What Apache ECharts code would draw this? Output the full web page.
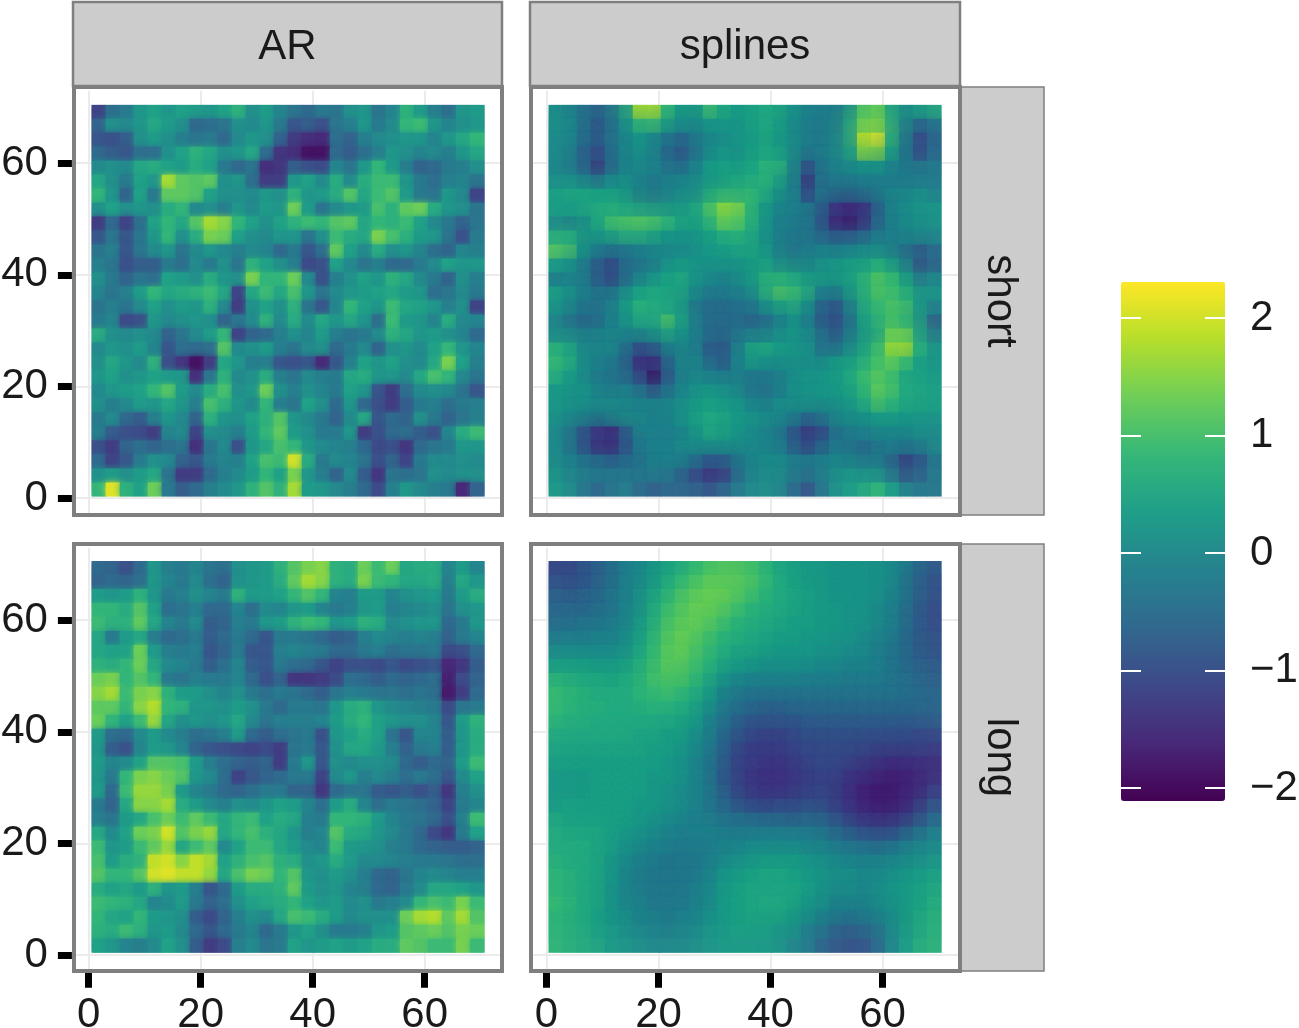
<!DOCTYPE html>
<html>
<head>
<meta charset="utf-8">
<title>AR and splines</title>
<script src="https://cdn.jsdelivr.net/npm/echarts@6/dist/echarts.min.js"></script>
<style>
html, body { margin: 0; padding: 0; background: #fff; }
#chart { width: 1299px; height: 1028px; }
</style>
</head>
<body>
<div id="chart"></div>
<script>
// values are in tenths, top row first, 2.5 units per cell
const arShort = [
[-12,-5,-3,2,4,2,4,3,2,4,7,1,3,-1,-4,-6,-3,-4,1,2,-4,-1,7,3,-2,-5,2,3],
[-7,1,0,2,5,3,1,-6,-5,-4,1,0,2,-3,-9,-8,-10,-4,-2,2,-3,0,8,9,2,-1,1,2],
[-9,-10,-8,1,3,1,-2,-4,-3,-6,0,2,1,-7,-13,-15,-16,-5,-7,-2,0,1,2,2,-1,2,5,8],
[-6,-8,-9,-5,-5,1,4,7,5,1,2,5,-5,-14,-15,-19,-19,-6,-8,-5,-2,2,1,-1,0,-2,2,5],
[0,1,0,5,6,4,3,6,4,-3,-6,-4,-15,-14,-8,-10,-11,-1,-4,2,8,3,-2,-7,-6,-3,-2,1],
[5,1,-3,4,2,17,12,11,12,1,2,-5,-13,-13,2,4,0,6,0,6,9,9,2,-3,-5,-2,-1,-4],
[8,2,-7,4,-3,12,12,11,4,1,1,0,2,1,7,2,3,6,11,5,9,11,3,-3,-4,2,0,-12],
[1,4,1,2,1,6,8,0,1,-2,2,0,3,2,13,3,-4,0,2,3,10,7,12,13,6,2,1,-4],
[-13,-6,-12,-5,4,8,5,11,17,15,8,4,1,4,7,9,8,11,12,5,8,7,9,4,0,-3,-7,-4],
[-9,-4,-9,-4,2,8,1,6,14,13,4,1,0,2,2,-4,1,9,6,5,14,10,7,3,2,-4,-10,-3],
[-4,-2,-9,-4,0,2,-4,0,2,0,-2,0,-1,-6,-3,-9,-5,12,4,0,6,1,2,-1,-5,-7,-1,-2],
[-2,-4,-10,-8,-8,-3,-5,0,-3,1,-4,7,4,1,-2,-11,-10,4,0,-4,-2,-6,-6,-3,0,4,2,2],
[1,-3,-7,-4,-5,4,3,1,6,2,1,14,8,8,13,0,-10,-2,1,4,2,7,5,0,-3,-7,1,-2],
[-1,-4,-2,3,8,5,6,7,9,5,-12,5,9,5,10,2,-4,0,2,3,4,5,3,2,-5,-4,0,-3],
[-4,-2,-4,0,4,1,3,2,7,0,-13,1,4,1,7,-4,-9,-1,8,4,2,9,5,4,2,-2,1,-12],
[-3,-1,-11,-10,2,0,1,2,1,-7,-4,0,7,0,6,0,5,2,5,2,-5,9,3,2,-1,6,0,-1],
[6,1,0,1,0,-7,-4,0,3,8,-12,-7,-6,-2,1,-1,3,-2,-4,-3,0,7,5,2,3,1,-1,-6],
[0,2,1,3,-1,-9,-5,-6,-5,11,0,1,3,-2,-4,0,1,-6,-3,0,-7,1,2,0,4,8,2,-1],
[1,5,2,0,7,-10,-14,-19,-13,5,2,-2,-2,-9,-10,-9,-16,-9,-2,4,2,4,1,0,5,14,4,-2],
[2,4,1,2,4,3,2,-15,-4,7,0,1,6,-2,-4,0,-2,-3,5,6,2,2,0,5,10,8,0,-4],
[0,2,3,4,8,11,3,0,6,10,1,2,13,1,-2,1,-1,-3,4,2,-9,-13,-5,0,1,0,-4,-9],
[1,-2,0,3,2,5,2,-2,10,7,2,0,8,-2,-4,4,1,-6,2,-6,-10,-13,-8,-3,-2,-5,-3,-2],
[-3,0,-6,-8,-2,2,0,-7,7,2,1,4,7,11,2,0,-3,-7,0,5,-9,-6,-7,1,-3,-7,-4,-2],
[-2,-8,-10,-11,-13,-1,0,-12,1,0,-2,3,8,12,3,1,-3,-3,2,-13,-10,-6,-5,-8,-10,-1,6,9],
[-10,-13,-7,-5,-7,-5,-4,-15,-4,0,-10,2,5,10,8,2,0,-1,-2,-6,-11,-10,-14,-6,-4,-3,2,2],
[-6,-12,-9,-3,1,0,-7,-9,-3,-1,-2,4,10,9,20,6,-3,0,-1,-4,-10,-7,-12,-3,0,0,1,0],
[1,3,1,3,5,-4,-13,-13,-6,-2,0,3,8,4,14,2,-2,-7,0,-8,-14,-4,-5,-4,1,0,1,1],
[8,21,7,4,13,-3,-8,-6,-2,0,2,7,11,7,17,3,2,0,-2,-6,-11,-2,2,0,-2,-3,-16,-7]
];
const splinesShort = [
[1,0,-4,-7,-4,3,18,19,9,3,2,10,6,3,4,6,5,2,-1,-2,-3,1,11,13,5,1,4,6],
[1,1,-4,-9,-5,1,9,10,5,2,1,3,3,2,4,6,4,1,-2,-3,-2,3,13,14,6,0,-6,-3],
[1,1,-4,-8,-4,0,3,1,-3,-6,-3,0,1,2,3,5,3,1,-2,-3,-1,3,19,22,7,-2,-11,-6],
[1,0,-6,-11,-5,0,2,0,-6,-9,-5,0,2,1,3,5,4,1,-3,-2,0,3,16,16,5,-3,-11,-6],
[0,-2,-7,-14,-7,-1,1,0,-4,-6,-2,3,4,3,4,8,8,1,-10,-3,0,1,3,3,0,-3,-4,-3],
[1,1,-2,-6,-1,1,-1,-3,-2,-1,0,2,3,4,6,8,5,0,-14,-4,-2,-2,-1,-1,-2,-3,-3,-3],
[4,5,5,4,4,2,-2,-4,-2,0,0,4,6,6,8,6,2,-1,-11,-3,-4,-4,-3,-2,0,0,1,-1],
[4,4,5,6,6,4,2,1,1,2,4,10,16,15,8,3,0,-1,-2,-6,-13,-15,-14,-7,-1,1,2,2],
[0,-2,0,5,10,11,12,11,9,5,4,8,14,13,8,3,-1,-2,-2,-8,-16,-18,-15,-7,-2,1,2,2],
[6,6,2,3,5,8,8,6,3,2,2,4,7,8,6,2,-2,-3,-3,-6,-9,-9,-7,-3,-2,0,1,1],
[12,11,3,-1,-3,-2,-1,0,0,0,1,3,4,5,5,3,-2,-4,-3,-2,-3,-2,-1,0,-2,-5,-8,-5],
[4,3,-1,-7,-11,-5,-4,-3,1,3,2,2,2,2,3,4,0,-2,-2,1,2,3,3,6,3,-2,-10,-7],
[-2,-1,-2,-8,-12,-7,-2,1,4,6,3,1,0,1,3,7,7,5,3,3,3,4,7,11,9,3,-4,-1],
[4,2,-1,-4,-5,0,4,5,5,5,1,-2,-2,-1,1,7,11,10,7,-1,-2,3,7,11,10,7,2,2],
[3,1,-3,-4,-2,3,8,6,5,3,-3,-5,-5,-4,-3,2,5,7,3,-6,-9,-2,6,9,11,10,3,-1],
[0,-4,-7,-6,-2,2,6,6,11,5,-2,-5,-5,-5,-7,-6,-2,2,-1,-8,-11,-5,4,7,10,8,2,-7],
[0,-1,-3,-2,0,0,1,3,6,3,-1,-5,-6,-4,-3,-3,0,2,1,-5,-9,-4,2,4,13,13,3,-3],
[7,5,0,0,1,-3,-9,-7,-1,1,-1,-8,-9,-2,5,6,4,3,2,-5,-6,-1,3,8,17,18,7,2],
[9,7,1,-1,-2,-5,-14,-15,-6,0,0,-6,-9,-1,4,3,2,2,1,0,2,3,6,10,13,10,4,2],
[7,4,1,-3,-4,-5,-11,-19,-9,-2,0,-2,-3,-2,-3,-3,-2,1,2,2,3,5,9,12,10,5,4,3],
[3,2,2,-1,-3,-2,-5,-10,-6,-1,1,2,1,0,-4,-5,-3,1,2,3,3,4,8,13,11,6,5,4],
[3,2,2,1,1,0,-1,-2,-1,1,3,4,3,2,-1,-2,1,2,3,2,2,3,6,11,9,6,5,4],
[2,1,0,-1,1,2,1,-1,-1,1,4,6,5,3,2,1,1,-1,-5,-3,1,2,2,4,4,3,3,2],
[1,-2,-8,-13,-15,-8,-1,-1,-2,-1,2,6,5,3,1,0,-2,-8,-13,-11,-4,-2,-1,1,1,1,2,1],
[1,-3,-9,-15,-16,-10,-3,-1,-1,1,2,3,3,2,1,0,-2,-8,-12,-8,-3,-4,-6,-3,-1,-2,-1,1],
[1,-1,-4,-6,-8,-6,-4,-1,0,0,-3,-7,-7,-3,0,1,1,-2,-3,-2,0,-2,-4,-3,-6,-12,-9,-3],
[2,0,-2,-3,-3,-3,-3,-2,-2,-6,-10,-14,-13,-6,-1,1,1,-2,-4,-2,1,2,1,1,-4,-10,-8,-3],
[3,1,-3,-6,-4,-2,-5,-7,-6,-6,-7,-9,-7,-3,0,1,0,-5,-9,-4,1,3,5,8,4,-1,-3,-3]
];
const arLong = [
[-6,-7,-10,-6,2,-2,-3,-1,-4,-5,1,2,3,7,11,14,15,7,6,13,9,13,5,6,6,-1,3,-1],
[-7,-6,-7,-5,2,-1,-3,0,-5,-7,1,2,3,6,12,17,15,7,6,14,9,8,5,5,6,-2,5,2],
[3,2,3,7,2,-3,-2,1,-1,-3,7,3,3,4,8,11,8,-1,-2,3,3,-1,1,2,3,-3,3,6],
[8,8,6,11,4,-5,-4,-2,-6,-6,-1,-5,0,-1,2,3,-1,-3,-2,2,3,-2,-1,0,1,-4,1,2],
[9,7,7,12,5,-1,-3,0,-8,-7,-2,-3,2,3,7,9,8,2,3,7,6,0,1,2,2,-6,-3,2],
[5,-3,3,5,-2,-6,-5,-3,-8,-6,-3,-6,-9,-3,-3,-4,-6,-8,-7,-2,0,-1,-2,-1,-2,-7,-3,-1],
[5,4,4,13,3,-2,-3,-2,-9,-7,-3,-9,-9,-2,-1,-2,-3,-6,-6,-3,-2,-5,-4,-4,-3,-11,-10,-6],
[7,6,8,13,5,0,-1,-3,-8,-5,-1,-8,-9,-3,-5,-6,-9,-12,-10,-10,-11,-9,-11,-10,-9,-16,-14,-8],
[13,14,8,11,8,-3,-4,-2,-3,-3,-1,-6,-10,-7,-14,-14,-13,-11,-5,-6,-8,-6,-7,-6,-5,-17,-11,-7],
[15,17,9,14,15,7,3,3,1,-1,1,-3,-5,-3,-4,-6,-8,-4,-2,-3,-4,-4,-5,-4,-5,-18,-13,-6],
[12,12,8,15,18,8,7,2,2,1,3,1,-3,-6,-3,-3,-4,2,6,7,2,0,-1,-2,-3,-11,-4,-3],
[13,8,4,9,16,5,1,2,1,2,5,0,-4,-2,-2,-2,-1,3,6,8,4,2,1,1,-1,-9,3,7],
[3,-5,-6,0,3,0,-2,-5,-4,-2,3,-6,-8,-5,-4,-3,-10,2,4,6,4,-4,-9,-1,-1,-8,2,6],
[2,-8,-10,-1,3,2,-1,-7,-9,-10,-11,-12,-11,-13,-4,-3,-9,1,5,5,3,-2,-7,-3,-2,-8,2,6],
[3,-1,0,4,11,11,10,3,-2,-5,-7,-8,-7,-13,-3,2,-9,1,0,1,1,0,-6,-8,-6,-7,3,9],
[2,-3,8,14,15,13,11,2,0,-5,-12,-9,-7,-6,-3,-3,-12,0,2,-2,0,-2,-5,-3,-5,-9,0,4],
[3,-6,9,16,16,14,3,-1,-3,-6,-7,-5,-3,-3,-7,-7,-14,-6,-4,-4,-8,-9,-8,-10,-8,-14,-2,1],
[-3,-7,5,15,15,17,6,3,0,-2,1,0,2,4,3,-1,-5,3,6,-1,-5,-3,-4,-5,-7,-12,-3,-1],
[-2,-4,3,5,10,13,9,12,9,5,8,9,4,6,5,-2,-3,8,8,7,3,-1,-3,-4,-6,-10,-2,9],
[5,0,4,13,14,20,11,14,16,5,8,10,7,5,2,-2,-1,11,6,5,2,0,-3,-6,-11,-14,-3,4],
[9,2,3,9,12,16,5,9,12,0,4,9,9,5,3,0,-1,9,3,2,1,-2,-3,-6,-7,-8,-8,-7],
[10,3,6,7,19,20,15,19,17,4,7,10,11,7,6,1,2,6,3,0,0,-1,-2,-3,-3,-4,-5,-5],
[11,8,8,11,20,21,19,19,16,5,10,14,13,8,11,2,1,3,1,-2,-6,-7,-4,-1,0,-1,-2,-2],
[6,4,5,3,7,2,3,-2,-9,-6,3,6,6,7,12,3,1,2,-1,-2,-6,-7,-3,0,5,5,4,2],
[9,8,7,5,-1,0,3,-3,-7,-5,1,4,5,6,8,4,2,3,0,1,-3,-2,0,8,10,9,14,9],
[8,5,4,8,3,2,1,-8,-11,-7,-2,1,0,5,10,9,6,3,0,1,1,1,13,17,18,12,17,11],
[7,6,9,7,2,3,0,-6,-9,-6,-3,-1,-6,-3,2,4,1,-3,-3,-2,2,3,11,12,13,11,14,13],
[4,2,-1,-2,0,4,1,-8,-13,-11,-2,0,-4,-3,4,2,3,4,3,4,6,6,12,11,9,9,14,9]
];
const splinesLong = [
[-11,-11,-9,-7,-5,-2,0,2,4,6,8,10,11,11,10,8,5,4,3,3,2,2,2,2,1,-2,-6,-8],
[-9,-10,-9,-7,-5,-2,0,2,5,8,10,12,12,12,11,9,6,4,3,3,2,2,2,2,1,-3,-7,-9],
[-7,-8,-7,-6,-4,-2,1,4,7,10,12,13,13,12,10,8,6,5,4,3,2,2,2,2,0,-3,-7,-9],
[-6,-6,-6,-5,-4,-1,1,5,9,11,13,13,12,10,8,7,6,5,4,3,3,2,2,1,-1,-4,-8,-10],
[-5,-5,-4,-4,-3,-1,2,6,10,12,13,12,10,8,7,6,5,4,4,3,3,2,2,1,-1,-4,-8,-10],
[-3,-3,-3,-2,-2,0,3,7,11,13,12,10,8,7,6,5,4,4,3,3,2,2,1,0,-2,-5,-8,-9],
[0,0,0,0,0,1,4,8,12,13,11,9,7,5,5,4,3,3,3,2,2,1,1,-1,-3,-5,-8,-9],
[3,3,3,2,2,3,6,9,12,12,10,8,5,4,3,2,2,2,2,1,1,0,0,-1,-3,-5,-7,-8],
[7,6,5,5,4,5,7,10,11,11,9,6,3,1,0,0,0,0,-1,-1,-1,-2,-2,-2,-3,-4,-6,-7],
[9,8,7,6,6,6,8,9,10,9,7,4,0,-2,-3,-3,-3,-3,-3,-3,-3,-3,-3,-3,-3,-4,-5,-6],
[9,8,7,7,6,6,7,8,8,7,5,2,-2,-4,-5,-6,-6,-5,-5,-5,-5,-5,-5,-5,-5,-5,-5,-6],
[8,7,7,6,6,6,6,6,6,5,4,0,-3,-6,-8,-8,-8,-8,-7,-7,-7,-7,-7,-7,-7,-7,-7,-7],
[6,6,6,6,6,6,5,5,4,4,2,-1,-5,-8,-10,-11,-11,-10,-9,-9,-9,-9,-9,-9,-9,-9,-10,-10],
[5,5,5,5,5,5,5,4,4,3,1,-2,-6,-10,-12,-12,-12,-11,-10,-10,-10,-10,-10,-11,-11,-11,-11,-12],
[4,4,4,4,4,4,4,4,3,2,0,-3,-7,-11,-12,-13,-13,-12,-11,-10,-10,-11,-12,-13,-14,-14,-14,-14],
[3,3,3,4,4,4,4,3,3,2,0,-3,-8,-11,-13,-14,-14,-13,-12,-11,-11,-13,-14,-15,-16,-16,-15,-14],
[3,3,3,4,4,4,4,3,2,1,0,-3,-7,-11,-13,-14,-14,-13,-12,-11,-12,-14,-16,-17,-17,-16,-15,-12],
[3,4,4,4,4,4,3,3,2,1,0,-3,-6,-9,-11,-12,-11,-11,-10,-10,-12,-14,-16,-17,-17,-16,-13,-9],
[5,4,4,4,4,4,3,2,1,0,-1,-2,-4,-5,-6,-7,-7,-8,-7,-7,-9,-12,-14,-15,-15,-13,-10,-6],
[6,5,5,5,4,3,2,1,0,-1,-1,-1,-2,-3,-3,-3,-3,-3,-3,-4,-6,-8,-10,-11,-11,-8,-5,-2],
[6,6,6,5,4,2,1,0,-1,-2,-2,-2,-1,-1,0,0,0,0,-1,-1,-3,-4,-5,-6,-5,-3,-1,0],
[7,6,6,5,3,1,-1,-2,-3,-3,-3,-2,0,1,2,3,3,3,2,1,0,-1,-2,-2,-1,0,1,2],
[8,7,6,5,3,0,-2,-3,-3,-3,-3,-1,2,3,4,5,5,4,3,2,1,1,0,0,1,2,3,4],
[8,7,6,5,2,0,-2,-3,-3,-3,-2,0,3,4,5,5,5,5,4,2,1,1,0,1,2,3,4,5],
[9,8,6,5,2,0,-1,-3,-3,-3,-2,0,3,4,5,6,6,5,3,2,0,0,0,1,2,3,4,6],
[8,7,6,4,2,1,-1,-2,-3,-2,-1,1,3,4,5,5,5,4,2,0,-2,-3,-2,-1,1,3,5,7],
[8,7,6,4,3,1,0,-1,-2,-1,0,2,3,4,4,4,3,2,-1,-3,-6,-7,-6,-4,0,3,5,7],
[8,7,6,5,3,2,1,0,0,0,1,2,3,3,3,3,2,0,-2,-6,-8,-9,-9,-6,-1,3,6,7]
];
const axisTicks = [0, 20, 40, 60];
const legendTicks = [-2, -1, 0, 1, 2];
const colTitles = ['AR', 'splines'];
const rowTitles = ['short', 'long'];
const viridis = ['#440154', '#482878', '#3e4989', '#31688e', '#26828e', '#1f9e89', '#35b779', '#6ece58', '#b5de2b', '#fde725'];

const TEXT = '#1a1a1a';
const FONT = 'Liberation Sans';
const SIZE = 42;

// one category per axis unit, ends sit on the panel frame
function range(a, b) {
  let out = [];
  for (let i = a; i <= b; i++) out.push(String(i));
  return out;
}
const xUnits = range(-3, 74);
const yUnits = range(-3, 73);
const heatIndex = arShort.map((r, i) => String(i));

function isTick(index, value) {
  return axisTicks.indexOf(Number(value)) >= 0;
}
function isLegendTick(index, value) {
  return legendTicks.indexOf(Number(value) / 10) >= 0;
}

function toCells(rows) {
  let cells = [];
  rows.forEach((row, r) => {
    row.forEach((v, c) => {
      cells.push([c, rows.length - 1 - r, v / 10]);
    });
  });
  return cells;
}

// cells with soft edges, the blur is what hides the mosaic
function softCell(blur) {
  return function (params, api) {
    const c = api.coord([api.value(0), api.value(1)]);
    const s = api.size([1, 1]);
    const color = api.visual('color');
    return {
      type: 'rect',
      shape: { x: c[0] - s[0] / 2, y: c[1] - s[1] / 2, width: s[0] + 0.5, height: s[1] + 0.5 },
      style: { fill: color, shadowBlur: blur, shadowColor: color }
    };
  };
}

const panels = [
  { rows: arShort, col: 0, row: 0, blur: 6 },
  { rows: splinesShort, col: 1, row: 0, blur: 28 },
  { rows: arLong, col: 0, row: 1, blur: 6 },
  { rows: splinesLong, col: 1, row: 1, blur: 28 }
];
const zeroX = [88.7, 546.5];
const zeroY = [498, 955];
const heatX = [91.7, 548.7];
const heatY = [104.7, 561];
const frames = [[74, 502], [531, 960]];
const frameRows = [[87, 515], [544, 971]];

let grids = [], xAxes = [], yAxes = [], series = [], gfx = [];

panels.forEach((p) => {
  // outer grid: ticks, labels and grid lines
  const xBottom = p.row === 1;
  const yLeft = p.col === 0;
  grids.push({
    left: zeroX[p.col] - 3 * 5.6, width: 77 * 5.6,
    top: zeroY[p.row] - 73 * 5.58, height: 76 * 5.58,
    outerBoundsMode: 'none'
  });
  let g = grids.length - 1;
  xAxes.push({
    type: 'category', gridIndex: g, data: xUnits, boundaryGap: false,
    axisLine: { show: false },
    axisTick: { show: xBottom, interval: isTick, length: 16, lineStyle: { color: '#000', width: 7 } },
    axisLabel: { show: xBottom, interval: isTick, margin: 23, fontSize: SIZE, color: TEXT, fontFamily: FONT },
    splitLine: { show: true, interval: isTick, lineStyle: { color: '#ebebeb', width: 2 } }
  });
  yAxes.push({
    type: 'category', gridIndex: g, data: yUnits, boundaryGap: false,
    axisLine: { show: false },
    axisTick: { show: yLeft, interval: isTick, length: 14, lineStyle: { color: '#000', width: 7 } },
    axisLabel: { show: yLeft, interval: isTick, margin: 24, fontSize: SIZE, color: TEXT, fontFamily: FONT, padding: [13, 0, 0, 0] },
    splitLine: { show: true, interval: isTick, lineStyle: { color: '#ebebeb', width: 2 } }
  });

  // inner grid: the raster itself
  grids.push({ left: heatX[p.col], width: 392.3, top: heatY[p.row], height: 391.7, outerBoundsMode: 'none' });
  g = grids.length - 1;
  xAxes.push({ type: 'category', gridIndex: g, data: heatIndex, show: false });
  yAxes.push({ type: 'category', gridIndex: g, data: heatIndex, show: false });
  series.push({
    type: 'custom', xAxisIndex: g, yAxisIndex: g, data: toCells(p.rows),
    renderItem: softCell(p.blur), clip: true, silent: true,
    encode: { x: 0, y: 1 }, progressive: 0, animation: false
  });

  // frame
  gfx.push({
    type: 'rect', z: 100, silent: true,
    shape: { x: frames[p.col][0], y: frameRows[p.row][0], width: frames[p.col][1] - frames[p.col][0], height: frameRows[p.row][1] - frameRows[p.row][0] },
    style: { fill: 'none', stroke: '#7f7f7f', lineWidth: 4 }
  });
});

// facet strips
const stripCols = [[73, 502], [530, 960]];
colTitles.forEach((t, i) => {
  gfx.push({
    type: 'rect', z: 90, silent: true,
    shape: { x: stripCols[i][0], y: 2, width: stripCols[i][1] - stripCols[i][0], height: 84 },
    style: { fill: '#cccccc', stroke: '#7f7f7f', lineWidth: 2.5 }
  });
  gfx.push({
    type: 'text', z: 95, silent: true, x: (stripCols[i][0] + stripCols[i][1]) / 2, y: 47,
    style: { text: t, textAlign: 'center', textVerticalAlign: 'middle', fontSize: SIZE, fontFamily: FONT, fill: TEXT }
  });
});
rowTitles.forEach((t, i) => {
  gfx.push({
    type: 'rect', z: 90, silent: true,
    shape: { x: 961, y: frameRows[i][0], width: 83, height: frameRows[i][1] - frameRows[i][0] },
    style: { fill: '#cccccc', stroke: '#7f7f7f', lineWidth: 1.5 }
  });
  gfx.push({
    type: 'text', z: 95, silent: true, x: 1000, y: (frameRows[i][0] + frameRows[i][1]) / 2,
    rotation: -Math.PI / 2,
    style: { text: t, textAlign: 'center', textVerticalAlign: 'middle', fontSize: SIZE, fontFamily: FONT, fill: TEXT }
  });
});

// colour bar ticks: one band per 0.1, -2 to 2
let legendLevels = [];
for (let i = -20; i <= 20; i++) legendLevels.push(String(i));
grids.push({ left: 1121, width: 104, top: 318 - 5.875, height: 41 * 11.75, outerBoundsMode: 'none' });
const lg = grids.length - 1;
xAxes.push({ type: 'category', gridIndex: lg, data: ['bar'], show: false });
yAxes.push({
  type: 'category', gridIndex: lg, data: legendLevels, position: 'left', z: 10,
  axisLine: { show: false },
  axisTick: { show: true, interval: isLegendTick, alignWithLabel: true, inside: true, length: 20, lineStyle: { color: '#fff', width: 2 } },
  axisLabel: { show: false },
  splitLine: { show: false }
});
yAxes.push({
  type: 'category', gridIndex: lg, data: legendLevels, position: 'right', z: 10,
  axisLine: { show: false },
  axisTick: { show: true, interval: isLegendTick, alignWithLabel: true, inside: true, length: 20, lineStyle: { color: '#fff', width: 2 } },
  axisLabel: {
    interval: isLegendTick, margin: 25, fontSize: SIZE, color: TEXT, fontFamily: FONT, padding: [15, 0, 0, 0],
    formatter: (v) => {
      const n = Number(v) / 10;
      return n < 0 ? '\u2212' + Math.abs(n) : String(n);
    }
  },
  splitLine: { show: false }
});

const myChart = echarts.init(document.getElementById('chart'));
myChart.setOption({
  backgroundColor: '#fff',
  animation: false,
  tooltip: { show: false },
  grid: grids,
  xAxis: xAxes,
  yAxis: yAxes,
  visualMap: {
    type: 'continuous', seriesIndex: [0, 1, 2, 3], dimension: 2, z: 1,
    min: -2.11, max: 2.31, calculable: false, realtime: false,
    left: 1121, top: 282, padding: 0, itemWidth: 104, itemHeight: 519,
    text: null, inRange: { color: viridis }
  },
  series: series,
  graphic: { elements: gfx }
});
</script>
</body>
</html>
